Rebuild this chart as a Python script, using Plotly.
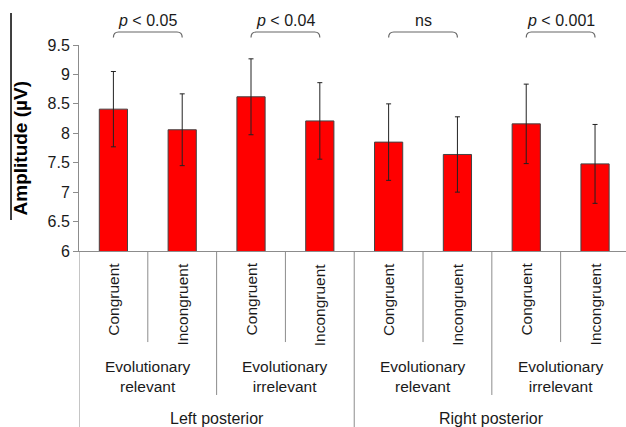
import plotly.graph_objects as go

# ---- data ----
conditions = ["Congruent", "Incongruent"] * 4
relevance_groups = ["Evolutionary<br>relevant", "Evolutionary<br>irrelevant",
                    "Evolutionary<br>relevant", "Evolutionary<br>irrelevant"]
regions = ["Left posterior", "Right posterior"]
amplitude = [8.41, 8.06, 8.62, 8.21, 7.85, 7.64, 8.16, 7.48]
sem = [0.64, 0.61, 0.645, 0.65, 0.65, 0.64, 0.675, 0.67]
p_labels = ["<i>p</i> &lt; 0.05", "<i>p</i> &lt; 0.04", "ns", "<i>p</i> &lt; 0.001"]
y_ticks = [6, 6.5, 7, 7.5, 8, 8.5, 9, 9.5]
y_tick_text = ["6", "6.5", "7", "7.5", "8", "8.5", "9", "9.5"]

FONT = "Arial, Liberation Sans, sans-serif"
GRAY = "#8c8c8c"

x = list(range(len(amplitude)))

fig = go.Figure()
fig.add_trace(go.Bar(
    x=x, y=amplitude, width=0.41,
    marker=dict(color="#ff0000", line=dict(color="#444444", width=1)),
    error_y=dict(type="data", array=sem, visible=True, color="#222222",
                 thickness=1, width=2.5),
))

shapes = []
annotations = []

# category (condition) labels
for i, c in enumerate(conditions):
    annotations.append(dict(x=i, y=-0.048, xref="x", yref="paper", text=c,
                            textangle=-90, showarrow=False, xanchor="center",
                            yanchor="top", font=dict(size=15.5, color="#1a1a1a")))
# separators between conditions
for g in range(4):
    xs = 2 * g + 0.5
    shapes.append(dict(type="line", xref="x", yref="paper", x0=xs, x1=xs,
                       y0=0, y1=-0.442, line=dict(color=GRAY, width=1)))
# relevance group labels and separators
for g, lab in enumerate(relevance_groups):
    annotations.append(dict(x=2 * g + 0.5, y=-0.607, xref="x", yref="paper",
                            text=lab, showarrow=False, xanchor="center",
                            yanchor="middle", font=dict(size=15.5, color="#1a1a1a")))
for xs in [1.5, 5.5]:
    shapes.append(dict(type="line", xref="x", yref="paper", x0=xs, x1=xs,
                       y0=0, y1=-0.699, line=dict(color=GRAY, width=1)))
# region labels and separators
for r, lab in enumerate(regions):
    annotations.append(dict(x=4 * r + 1.5, y=-0.814, xref="x", yref="paper",
                            text=lab, showarrow=False, xanchor="center",
                            yanchor="middle", font=dict(size=16, color="#1a1a1a")))
for xs in [-0.5, 3.5]:
    shapes.append(dict(type="line", xref="x", yref="paper", x0=xs, x1=xs,
                       y0=0, y1=-0.86, line=dict(color=GRAY, width=1)))

# significance brackets
rx = 0.075
y_top, y_end = 1.063, 1.036
for g, lab in enumerate(p_labels):
    a, b = 2 * g, 2 * g + 1
    path = (f"M {a},{y_end} Q {a},{y_top} {a + rx},{y_top} "
            f"L {b - rx},{y_top} Q {b},{y_top} {b},{y_end}")
    shapes.append(dict(type="path", xref="x", yref="paper", path=path,
                       line=dict(color="#666666", width=1.2)))
    annotations.append(dict(x=(a + b) / 2, y=1.121, xref="x", yref="paper",
                            text=lab, showarrow=False, xanchor="center",
                            yanchor="middle", font=dict(size=16, color="#1a1a1a")))

# y-axis title
annotations.append(dict(x=-0.107, y=0.5, xref="paper", yref="paper",
                        text="<b>Amplitude (µV)</b>", textangle=-90,
                        showarrow=False, xanchor="center", yanchor="middle",
                        font=dict(size=19, color="#000000")))
shapes.append(dict(type="line", xref="paper", yref="paper", x0=-0.1243,
                   x1=-0.1243, y0=0.150, y1=1.155,
                   line=dict(color="#000000", width=1.5)))

fig.update_layout(
    width=626, height=427,
    margin=dict(l=79, r=0, t=45, b=176, pad=0),
    paper_bgcolor="white", plot_bgcolor="white",
    font=dict(family=FONT, color="#1a1a1a"),
    showlegend=False,
    shapes=shapes, annotations=annotations,
    xaxis=dict(range=[-0.5, 7.45], showticklabels=False, ticks="",
               showline=True, linecolor=GRAY, linewidth=1,
               showgrid=False, zeroline=False, fixedrange=True),
    yaxis=dict(range=[6, 9.5], tickvals=y_ticks, ticktext=y_tick_text,
               ticks="outside", ticklen=5, tickcolor=GRAY,
               showline=True, linecolor=GRAY, linewidth=1,
               showgrid=False, zeroline=False,
               tickfont=dict(size=16, color="#1a1a1a")),
)

fig.write_html("out.html")
